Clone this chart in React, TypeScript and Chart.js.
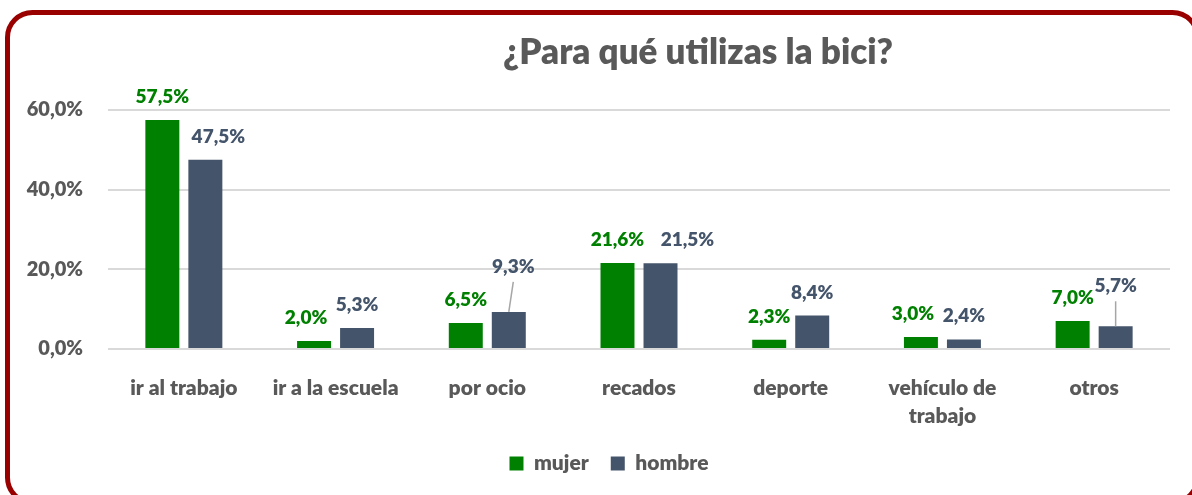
import React, { useEffect, useRef } from "react";
import { Chart, registerables } from "chart.js";

Chart.register(...registerables);

const categories: (string | string[])[] = [
  "ir al trabajo",
  "ir a la escuela",
  "por ocio",
  "recados",
  "deporte",
  ["vehículo de", "trabajo"],
  "otros",
];
const mujer = [57.5, 2.0, 6.5, 21.6, 2.3, 3.0, 7.0];
const hombre = [47.5, 5.3, 9.3, 21.5, 8.4, 2.4, 5.7];
const seriesNames = ["mujer", "hombre"];
const seriesColors = ["#008000", "#44546A"];
const yMin = 0;
const yMax = 60;
const yStep = 20;
const titleText = "¿Para qué utilizas la bici?";

// label nudges (dx, dy) relative to default spot above each bar
const labelShifts = [
  [[0, 0], [-8, 0], [0, 0], [0, 0], [0, 0], [-8, 0], [0, 0]],
  [[13, 0], [0, 0], [4.5, -22], [27, 0], [0, 0], [0, 0], [0, -17]],
];
const leaderLines = [
  [false, false, false, false, false, false, false],
  [false, false, true, false, false, false, true],
];

const FONT = "Lato";
const WEIGHT = "800";
const GRAY = "#595959";

const fmt = (v: number) => v.toFixed(1).replace(".", ",") + "%";

const decorPlugin = {
  id: "decor",
  afterLayout(chart: any) {
    const lg = chart.legend;
    if (lg) {
      lg.left += 24;
      lg.right += 24;
    }
  },
  afterDraw(chart: any) {
    const ctx = chart.ctx as CanvasRenderingContext2D;
    ctx.save();
    // title
    ctx.font = `${WEIGHT} 35px ${FONT}`;
    ctx.fillStyle = GRAY;
    ctx.textAlign = "center";
    ctx.textBaseline = "alphabetic";
    ctx.fillText(titleText, 698, 64);
    // rounded frame
    ctx.strokeStyle = "#990000";
    ctx.lineWidth = 5;
    ctx.beginPath();
    (ctx as any).roundRect(7.5, 12.5, 1190, 490, 25);
    ctx.stroke();
    ctx.restore();
  },
  afterDatasetsDraw(chart: any) {
    const ctx = chart.ctx as CanvasRenderingContext2D;
    chart.data.datasets.forEach((ds: any, di: number) => {
      const meta = chart.getDatasetMeta(di);
      meta.data.forEach((bar: any, i: number) => {
        const v = ds.data[i] as number;
        const [dx, dy] = labelShifts[di][i];
        const x = bar.x + dx;
        const base = bar.y - 17 + dy;
        ctx.save();
        if (leaderLines[di][i]) {
          ctx.strokeStyle = "#A6A6A6";
          ctx.lineWidth = 1.5;
          ctx.beginPath();
          ctx.moveTo(x, base + 9);
          ctx.lineTo(bar.x, bar.y);
          ctx.stroke();
        }
        ctx.font = `${WEIGHT} 19px ${FONT}`;
        ctx.fillStyle = seriesColors[di];
        ctx.textAlign = "center";
        ctx.textBaseline = "alphabetic";
        ctx.fillText(fmt(v), x, base);
        ctx.restore();
      });
    });
  },
};

export default function App() {
  const ref = useRef<HTMLCanvasElement | null>(null);

  useEffect(() => {
    document.body.style.margin = "0";
    let chart: Chart | null = null;
    let dead = false;
    const make = () => {
      if (dead || !ref.current) return;
      chart = new Chart(ref.current, {
        type: "bar",
        data: {
          labels: categories,
          datasets: [
            {
              label: seriesNames[0],
              data: mujer,
              backgroundColor: seriesColors[0],
              categoryPercentage: 0.567,
              barPercentage: 0.79,
            },
            {
              label: seriesNames[1],
              data: hombre,
              backgroundColor: seriesColors[1],
              categoryPercentage: 0.567,
              barPercentage: 0.79,
            },
          ],
        },
        options: {
          animation: false,
          responsive: false,
          devicePixelRatio: 1,
          layout: { padding: { top: 110, left: 0, right: 22, bottom: 11 } },
          plugins: {
            title: { display: false },
            tooltip: { enabled: false },
            legend: {
              position: "bottom",
              labels: {
                boxWidth: 14,
                boxHeight: 14,
                padding: 22,
                color: GRAY,
                font: { family: FONT, size: 21, weight: WEIGHT },
              },
            },
          },
          scales: {
            x: {
              grid: { display: false },
              border: { display: false },
              ticks: {
                color: GRAY,
                font: { family: FONT, size: 21, weight: WEIGHT, lineHeight: 1.36 },
                padding: 16.5,
                maxRotation: 0,
                autoSkip: false,
              },
              afterFit: (s: any) => {
                s.height = 82;
              },
            },
            y: {
              min: yMin,
              max: yMax,
              border: { display: false },
              grid: { color: "#D9D9D9", lineWidth: 2, drawTicks: false },
              ticks: {
                stepSize: yStep,
                color: GRAY,
                padding: 25,
                font: { family: FONT, size: 20, weight: WEIGHT },
                callback: (v: any) => fmt(Number(v)),
              },
              afterFit: (s: any) => {
                s.width = 108;
              },
            },
          },
        },
        plugins: [decorPlugin],
      });
    };
    const fontsApi = (document as any).fonts;
    if (fontsApi && fontsApi.load) {
      Promise.all([
        fontsApi.load(`${WEIGHT} 20px ${FONT}`),
        fontsApi.load(`${WEIGHT} 35px ${FONT}`),
      ])
        .catch(() => {})
        .then(make);
    } else {
      make();
    }
    return () => {
      dead = true;
      if (chart) chart.destroy();
    };
  }, []);

  return (
    <div style={{ width: 1192, height: 495, overflow: "hidden", background: "#fff" }}>
      <canvas ref={ref} width={1192} height={495} style={{ display: "block" }} />
    </div>
  );
}
